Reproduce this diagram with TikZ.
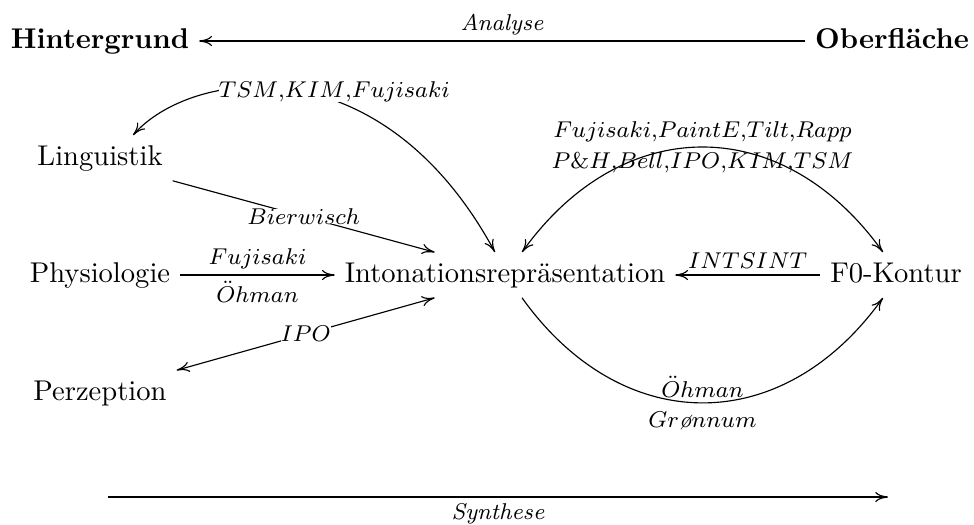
\documentclass[tikz,border=0pt]{standalone}
\usepackage{amsmath}
\usepackage{fontspec}
\usepackage{tikz}
\usetikzlibrary{calc}
\usetikzlibrary{arrows.meta}

\begin{document}
\begin{tikzpicture}[x=0.35pt, y=-0.35pt, >={Computer Modern Rightarrow[length=4.5pt, width=3.6pt]}]
                \tikzstyle{field} = [text height=6.94pt, text depth=1.94pt, inner sep=3.33pt]
                \tikzstyle{lab}   = [font=\footnotesize, inner sep=2pt]
                \tikzstyle{cut}   = [font=\footnotesize, inner sep=0pt, fill=white]
                \useasboundingbox (0, 0) rectangle (974, 524);
                \node [field](hint) at (100, 41) {\textbf{Hintergrund}};
                \node [field](ober) at (892, 41) {\textbf{Oberfläche}};
                \node [field](ling) at (100, 158) {Linguistik};
                \node [field](phys) at (100, 275) {Physiologie};
                \node [field](perz) at (100, 393) {Perzeption};
                \node [field](into) at (505, 275) {Intonationsrepräsentation};
                \node [field](fkon) at (896, 275) {F0-Kontur};
                \coordinate (synA) at (108, 497);
                \coordinate (synB) at (888, 497);
                %%Edges
                \draw [->] (ober) -- node [lab, above] {\textit{Analyse}} (hint);
                \draw [->] (synA) -- node [lab, below] {\textit{Synthese}} (synB);
                \draw [<->] ($(ling.north)+(33, 0)$) .. controls (190, 70) and (380, 40) .. node [cut, pos=0.6, yshift=3pt] {$TSM{,}KIM{,}Fujisaki$} ($(into.north)+(-10, 0)$);
                \draw [->] (ling.south east) -- node [cut] {$Bierwisch$} ($(into.north west)+(100, 0)$);
                \draw [->] (phys) -- node [lab, above] {$Fujisaki$} node [lab, below] {$\ddot{O}hman$} (into);
                \draw [<->] ($(into.south west)+(100, 0)$) -- node [cut] {$IPO$} (perz.north east);
                \draw [<->] ($(into.north)+(17, 0)$) .. controls +(100, -140) and +(-100, -140) .. node [lab, align=center] {$Fujisaki{,}PaintE{,}Tilt{,}Rapp$\\[1.5pt]$P\&H{,}Bell{,}IPO{,}KIM{,}TSM$} ($(fkon.north)+(-13, 0)$);
                \draw [->] (fkon) -- node [lab, above] {$INTSINT$} (into);
                \draw [->] ($(into.south)+(17, 0)$) .. controls +(100, 140) and +(-100, 140) .. node [lab, align=center] {$\ddot{O}hman$\\[1pt]$Gr\mbox{\itshape ø}nnum$} ($(fkon.south)+(-13, 0)$);
\end{tikzpicture}
\end{document}
